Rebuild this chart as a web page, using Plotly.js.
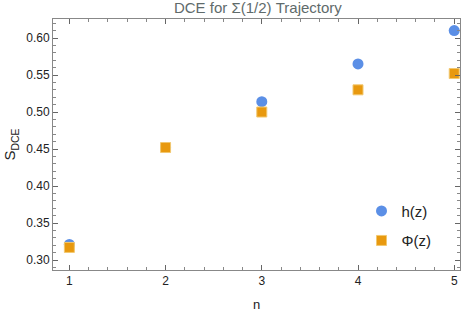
<!DOCTYPE html>
<html><head><meta charset="utf-8">
<script src="https://cdn.plot.ly/plotly-3.0.1.min.js"></script>
<style>html,body{margin:0;padding:0;background:#fff}#c{width:463px;height:312px}</style>
</head><body><div id="c"></div>
<script>
const nVals = [1, 2, 3, 4, 5];
const hVals = [0.321, 0.452, 0.514, 0.565, 0.610];
const phiVals = [0.317, 0.452, 0.500, 0.530, 0.552];
const xTicks = [1, 2, 3, 4, 5];
const yTicks = [0.30, 0.35, 0.40, 0.45, 0.50, 0.55, 0.60];

const FONT = 'Liberation Sans, Arial, sans-serif';
const axisCommon = {
  showgrid: false, zeroline: false, showline: true, linecolor: '#888', linewidth: 1,
  mirror: 'allticks', ticks: 'inside', ticklen: 5, tickcolor: '#666', tickwidth: 1,
  tickfont: {family: FONT, size: 12, color: '#222'}
};

const traces = [
  {x: nVals, y: hVals, mode: 'markers', name: 'h(z)', type: 'scatter', legendgroup: 'a',
   marker: {symbol: 'circle', size: 11, color: '#5b8fe6', line: {width: 0}}},
  {x: nVals, y: phiVals, mode: 'markers', name: 'Φ(z)', type: 'scatter', legendgroup: 'b',
   marker: {symbol: 'square', size: 10, color: '#e8990f', line: {width: 1, color: '#f2c870'}}}
];

const layout = {
  width: 463, height: 312,
  margin: {l: 53, r: 3, t: 19, b: 42},
  paper_bgcolor: '#fff', plot_bgcolor: '#fff',
  title: {text: 'DCE for Σ(1/2) Trajectory', x: 0.557, xanchor: 'center', y: 1.0, yanchor: 'top', pad: {t: 2},
          font: {family: FONT, size: 15, color: '#5f6b6b'}},
  xaxis: Object.assign({}, axisCommon, {
    range: [0.83, 5.06], tickvals: xTicks, ticktext: xTicks.map(String),
    minor: {dtick: 0.2, tick0: 0, ticks: 'inside', ticklen: 3, tickcolor: '#888'},
    title: {text: 'n', font: {family: FONT, size: 13, color: '#222'}, standoff: 16}
  }),
  yaxis: Object.assign({}, axisCommon, {
    range: [0.2865, 0.6257], tickvals: yTicks, ticktext: yTicks.map(v => v.toFixed(2)),
    minor: {dtick: 0.01, tick0: 0, ticks: 'inside', ticklen: 3, tickcolor: '#888'},
    title: {text: 'S<sub>DCE</sub>', font: {family: FONT, size: 15, color: '#222'}, standoff: 6}
  }),
  showlegend: true,
  legend: {x: 0.758, y: 0.30, xanchor: 'left', yanchor: 'top', bgcolor: 'rgba(0,0,0,0)',
           font: {family: FONT, size: 15, color: '#222'}, traceorder: 'grouped',
           tracegroupgap: 7, itemwidth: 30}
};

Plotly.newPlot('c', traces, layout, {staticPlot: true, displayModeBar: false});
</script></body></html>
